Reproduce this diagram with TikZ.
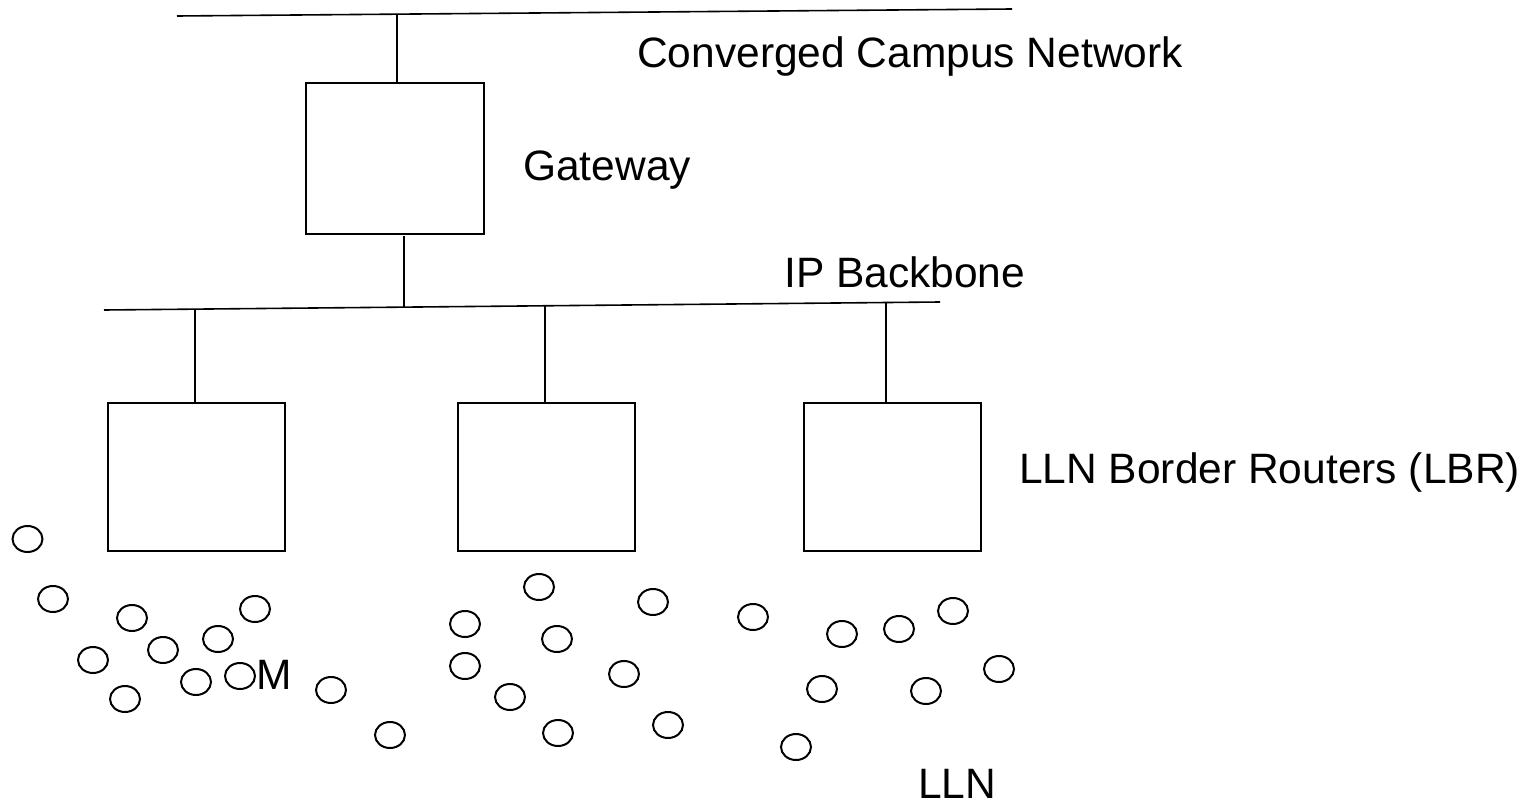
\documentclass[tikz,border=0pt]{standalone}
\usepackage{fontspec}
\setmainfont{Liberation Sans}
\usetikzlibrary{shapes.geometric}
\begin{document}
\begin{tikzpicture}[x=1pt,y=-1pt,
  wire/.style={draw=black,line width=1.6pt},
  boxnode/.style={draw=black,line width=2pt,rectangle,inner sep=0pt,anchor=north west},
  mote/.style={draw=black,line width=2pt,ellipse,minimum width=30pt,minimum height=26pt,inner sep=0pt},
  lbl/.style={inner sep=0pt,anchor=base west,font=\fontsize{42.5pt}{50pt}\selectfont}]
\useasboundingbox (0,0) rectangle (1529,800);
% top network line
\coordinate (t1) at (177,16);
\coordinate (t2) at (1012,9);
\draw[wire] (t1) -- (t2);
\coordinate (tg) at (397,14.2);
% gateway
\node[boxnode,minimum width=178pt,minimum height=151pt] (gw) at (305,82) {};
\draw[wire] (tg) -- (tg |- gw.north);
% backbone
\coordinate (b1) at (104,310);
\coordinate (b2) at (940,302);
\draw[wire] (b1) -- (b2);
\coordinate (gwb) at (404,236);
\coordinate (bg) at (404,307.2);
\draw[wire] (gwb) -- (bg);
% LBRs
\node[boxnode,minimum width=177pt,minimum height=148pt] (r1) at (107,402) {};
\node[boxnode,minimum width=177pt,minimum height=148pt] (r2) at (457,402) {};
\node[boxnode,minimum width=177pt,minimum height=148pt] (r3) at (803,402) {};
\coordinate (c1) at (195,309.1);
\coordinate (c2) at (545,305.8);
\coordinate (c3) at (886,302.5);
\draw[wire] (c1) -- (c1 |- r1.north);
\draw[wire] (c2) -- (c2 |- r2.north);
\draw[wire] (c3) -- (c3 |- r3.north);
% labels
\node[lbl] (lccn) at (637,67) {Converged Campus Network};
\node[lbl] (lgw) at (523,180) {Gateway};
\node[lbl] (lip) at (784,287) {IP Backbone};
\node[lbl] (llbr) at (1019,483) {LLN Border Routers (LBR)};
\node[lbl] (llln) at (918,798) {LLN};
\node[lbl] (lm) at (256,689) {M};
% motes
\foreach \n/\x/\y in {a1/27.5/539,a2/53/599,a3/132/618,a4/255/609,a5/163/650,a6/218/639,a7/93/660,a8/196/682,a9/240/676,a10/125/699,a11/331/690,
 b1/539/587,b2/653/602,b3/465/624,b4/557/639,b5/465/666,b6/624/674,b7/510/697,b8/668/725,b9/558/733,b10/390/735,
 d1/753/617,d2/842/634,d3/899/629,d4/953/611,d5/999/669,d6/822/689,d7/926/691,d8/796/747}
  \node[mote] (m\n) at (\x,\y) {};
\end{tikzpicture}
\end{document}
